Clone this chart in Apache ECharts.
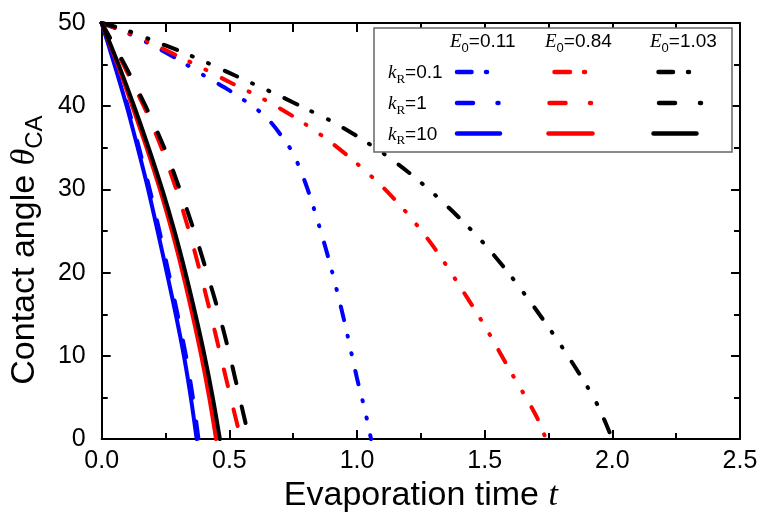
<!DOCTYPE html>
<html><head><meta charset="utf-8">
<script src="https://cdn.jsdelivr.net/npm/echarts@6/dist/echarts.min.js"></script>
<style>html,body{margin:0;padding:0;background:#fff}#c{width:763px;height:518px}</style>
</head><body><div id="c"></div>
<script>
// ---- Data ----
// contact angle levels for the kR=10 and kR=1 curves
const thetaLevels = [50, 45, 40, 35, 30, 25, 20, 15, 10, 5, 0];
// evaporation times at those levels
const tSolidE011 = [0, 0.050, 0.098, 0.141, 0.182, 0.219, 0.255, 0.290, 0.322, 0.349, 0.372];
const tSolidE084 = [0, 0.062, 0.120, 0.176, 0.228, 0.275, 0.317, 0.355, 0.390, 0.421, 0.448];
const tSolidE103 = [0, 0.066, 0.127, 0.184, 0.237, 0.285, 0.328, 0.367, 0.403, 0.435, 0.463];
const tDashE011  = [0, 0.053, 0.102, 0.146, 0.188, 0.226, 0.262, 0.297, 0.330, 0.357, 0.379];
const tDashE084  = [0, 0.085, 0.165, 0.234, 0.292, 0.342, 0.386, 0.427, 0.466, 0.505, 0.545];
const tDashE103  = [0, 0.090, 0.172, 0.245, 0.306, 0.362, 0.412, 0.460, 0.502, 0.540, 0.578];
// kR=0.1 curves (dash-dot-dot)
const tDotE011  = [0, 0.1, 0.2, 0.3, 0.4, 0.5, 0.6, 0.65, 0.7, 0.75, 0.8, 0.85, 0.9, 0.95, 1.0, 1.03, 1.055];
const thDotE011 = [50, 48.8, 47.3, 45.6, 43.7, 41.9, 39.8, 38.5, 36.6, 34.3, 30.6, 25.8, 20.4, 14.2, 7.3, 3.6, 0];
const tDotE084  = [0, 0.1, 0.2, 0.3, 0.4, 0.5, 0.6, 0.7, 0.8, 0.9, 1.0, 1.1, 1.2, 1.3, 1.4, 1.5, 1.6, 1.7, 1.74];
const thDotE084 = [50, 48.9, 47.5, 46.0, 44.5, 42.9, 41.4, 39.7, 37.8, 35.6, 33.1, 30.3, 27.0, 23.1, 18.5, 13.6, 8.2, 2.9, 0];
const tDotE103  = [0, 0.1, 0.2, 0.3, 0.4, 0.5, 0.6, 0.7, 0.8, 0.9, 1.0, 1.1, 1.2, 1.3, 1.4, 1.5, 1.6, 1.7, 1.8, 1.9, 1.95, 2.0];
const thDotE103 = [50, 49.1, 47.9, 46.7, 45.4, 44.0, 42.6, 41.2, 39.7, 38.2, 36.4, 34.4, 32.1, 29.5, 26.6, 23.4, 19.7, 15.6, 11.2, 6.4, 3.6, 0];

const xTicks = [0, 0.5, 1.0, 1.5, 2.0, 2.5];
const yTicks = [0, 10, 20, 30, 40, 50];
const e0Labels = ['0.11', '0.84', '1.03'];
const kRLabels = ['0.1', '1', '10'];

// ---- Styles ----
const BLUE = '#0000ff', RED = '#ff0000', BLACK = '#000000';
const DASHDOT = [14, 16, 1, 17, 1, 17];
const DASH = [17, 24];
const LW = 4;
const SANS = '"Liberation Sans", Arial, sans-serif';
const SERIF = '"Liberation Serif", "Times New Roman", serif';

function zip(xs, ys) { return xs.map((x, i) => [x, ys[i]]); }
function mk(name, color, data, dash) {
  return {
    name, type: 'line', data, symbol: 'none', smooth: 0.3, silent: true,
    lineStyle: { color, width: LW, type: dash || 'solid', cap: 'round', join: 'round' },
    z: 2
  };
}

const series = [
  mk('kR=0.1 E0=0.11', BLUE, zip(tDotE011, thDotE011), DASHDOT),
  mk('kR=0.1 E0=0.84', RED, zip(tDotE084, thDotE084), DASHDOT),
  mk('kR=0.1 E0=1.03', BLACK, zip(tDotE103, thDotE103), DASHDOT),
  mk('kR=1 E0=0.11', BLUE, zip(tDashE011, thetaLevels), DASH),
  mk('kR=1 E0=0.84', RED, zip(tDashE084, thetaLevels), DASH),
  mk('kR=1 E0=1.03', BLACK, zip(tDashE103, thetaLevels), DASH),
  mk('kR=10 E0=0.11', BLUE, zip(tSolidE011, thetaLevels)),
  mk('kR=10 E0=0.84', RED, zip(tSolidE084, thetaLevels)),
  mk('kR=10 E0=1.03', BLACK, zip(tSolidE103, thetaLevels))
];

// ---- Legend (table-like box drawn with graphic elements) ----
const subRich = {
  it: { fontFamily: SERIF, fontStyle: 'italic', fontSize: 19, lineHeight: 26, fill: '#000' },
  n: { fontFamily: SANS, fontSize: 19, lineHeight: 26, fill: '#000' },
  s: { fontFamily: SANS, fontSize: 13, lineHeight: 13, verticalAlign: 'bottom', fill: '#000' },
  sr: { fontFamily: SERIF, fontSize: 13, lineHeight: 13, verticalAlign: 'bottom', fill: '#000' }
};
const graphic = [];
graphic.push({ type: 'rect', shape: { x: 374, y: 28, width: 358, height: 124 },
  style: { fill: '#fff', stroke: '#666', lineWidth: 1.5 }, z: 100, silent: true });
const headLeft = [450, 545, 650];
e0Labels.forEach((v, i) => graphic.push({ type: 'text', x: headLeft[i], y: 42, z: 101, silent: true,
  style: { text: '{it|E}{s|0}{n|=' + v + '}', rich: subRich, verticalAlign: 'middle', align: 'left' } }));
const rowY = [72, 103, 133.5];
kRLabels.forEach((v, i) => graphic.push({ type: 'text', x: 388, y: rowY[i] + 1, z: 101, silent: true,
  style: { text: '{it|k}{sr|R}{n|=' + v + '}', rich: subRich, verticalAlign: 'middle', align: 'left' } }));
const colors = [BLUE, RED, BLACK];
// legend sample segments per row, per column: [x1,x2] pairs (geometric)
const sampleSegs = [
  [[[457, 471.5], [486, 487]], [[554.5, 570], [584, 585]], [[658.5, 673], [688, 689]]],
  [[[457, 473], [497.5, 498.5]], [[549.5, 565.5], [590, 591]], [[659, 675], [700, 701]]],
  [[[457, 500]], [[548.5, 592.5]], [[653.5, 696.5]]]
];
sampleSegs.forEach((row, r) => row.forEach((segs, c) => segs.forEach(s => graphic.push({
  type: 'line', z: 101, silent: true,
  shape: { x1: s[0], y1: rowY[r], x2: s[1], y2: rowY[r] },
  style: { stroke: colors[c], lineWidth: 4.5, lineCap: 'round' }
}))));

const axisCommon = {
  type: 'value', splitLine: { show: false }, minorSplitLine: { show: false },
  axisLine: { show: true, onZero: false, lineStyle: { color: '#000', width: 2 } },
  axisTick: { show: true, inside: true, length: 9, lineStyle: { color: '#000', width: 2 } },
  minorTick: { show: true, splitNumber: 2, length: 6, lineStyle: { color: '#000', width: 2 } }
};
const labelStyle = { show: true, color: '#000', fontSize: 25, fontFamily: SANS };

const option = {
  animation: false,
  backgroundColor: '#fff',
  grid: { left: 100, right: 23, top: 23, bottom: 75, containLabel: false },
  xAxis: [
    Object.assign({}, axisCommon, {
      position: 'bottom', min: xTicks[0], max: xTicks[xTicks.length - 1], interval: 0.5,
      axisLabel: Object.assign({}, labelStyle, { margin: 10, formatter: v => v.toFixed(1) }),
      name: 'Evaporation time {i|t}', nameLocation: 'middle', nameGap: 31,
      nameTextStyle: { fontSize: 34, fontFamily: SANS, color: '#000',
        rich: { i: { fontSize: 34, fontFamily: SERIF, fontStyle: 'italic', color: '#000' } } }
    }),
    Object.assign({}, axisCommon, {
      position: 'top', min: 0, max: 2.5, interval: 0.25,
      axisLabel: { show: false }, minorTick: { show: false }
    })
  ],
  yAxis: [
    Object.assign({}, axisCommon, {
      position: 'left', min: yTicks[0], max: yTicks[yTicks.length - 1], interval: 10,
      axisLabel: Object.assign({}, labelStyle, { margin: 16 }),
      name: 'Contact angle {th|θ}{sub|CA}', nameLocation: 'middle', nameGap: 52, nameRotate: 90,
      nameTextStyle: { fontSize: 34, fontFamily: SANS, color: '#000', padding: [0, 38, 0, 0],
        rich: {
          th: { fontSize: 34, fontFamily: SERIF, fontStyle: 'italic', color: '#000', lineHeight: 44 },
          sub: { fontSize: 24, fontFamily: SANS, color: '#000', verticalAlign: 'bottom', lineHeight: 24 }
        } }
    }),
    Object.assign({}, axisCommon, {
      position: 'right', min: 0, max: 50, interval: 10,
      axisLabel: { show: false }
    })
  ],
  graphic,
  series
};
const chart = echarts.init(document.getElementById('c'), null, { renderer: 'canvas' });
chart.setOption(option);
</script></body></html>
